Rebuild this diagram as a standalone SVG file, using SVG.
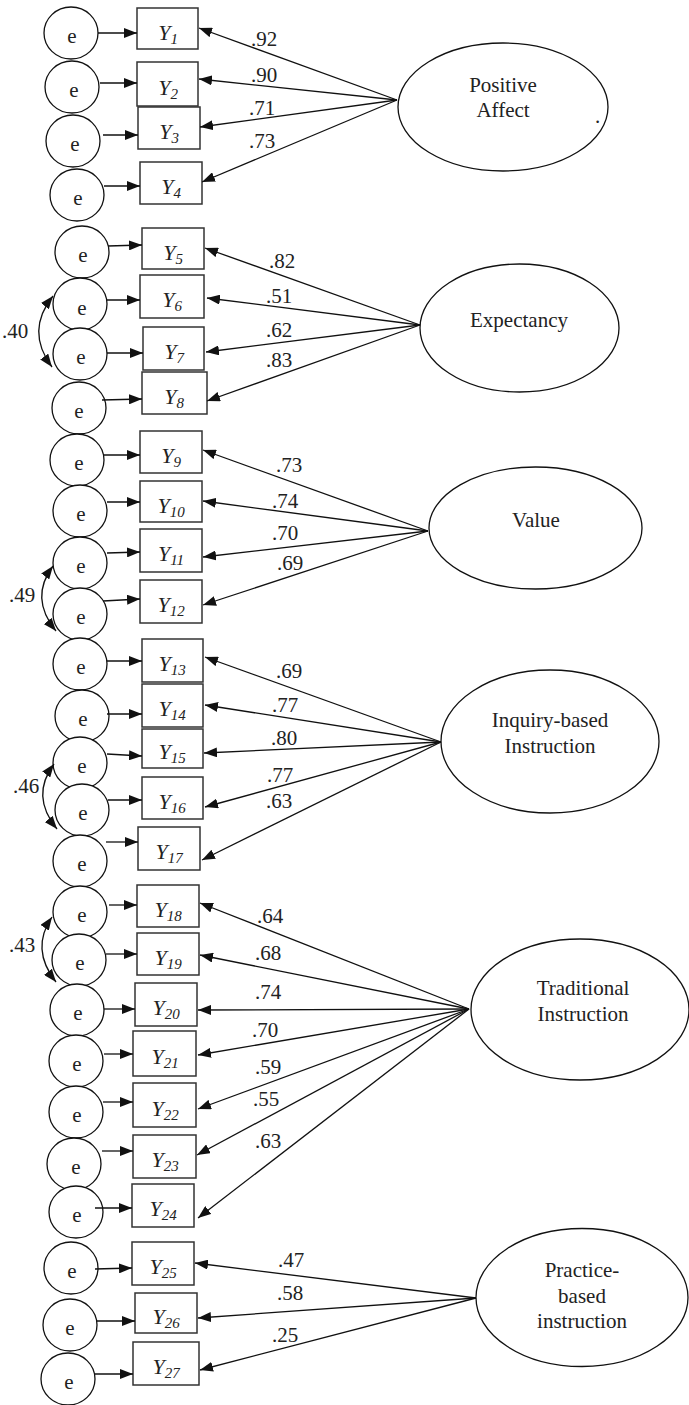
<svg xmlns="http://www.w3.org/2000/svg" width="689" height="1405" viewBox="0 0 689 1405">
<defs>
<marker id="ah" markerUnits="userSpaceOnUse" markerWidth="13" markerHeight="10" refX="13" refY="5" orient="auto-start-reverse">
<path d="M0,0 L13,5 L0,10 z" fill="#111"/>
</marker>
<style>
.e{fill:#fff;stroke:#111;stroke-width:1.3}
.b{fill:#fff;stroke:#333;stroke-width:1.5}
.lv{fill:#fff;stroke:#111;stroke-width:1.3}
text{font-family:'Liberation Serif',Tinos,'Times New Roman',Times,'DejaVu Serif',serif}
.t{font-size:21px;fill:#222}
.m{text-anchor:middle}
.y{font-size:22px;font-style:italic;fill:#222;text-anchor:middle}
.s{font-size:15px}
.c line,.c path{stroke:#111;stroke-width:1.3;fill:none;marker-end:url(#ah)}
.c path{marker-start:url(#ah)}
</style>
</defs>
<rect width="689" height="1405" fill="#fff"/>

<g id="latents">
<g id="positive-affect"><ellipse class="lv" cx="503" cy="107" rx="105" ry="64"/><text class="t m" x="503" y="92">Positive</text><text class="t m" x="503" y="117">Affect</text><text class="t" x="595" y="123">.</text></g>
<g id="expectancy"><ellipse class="lv" cx="519.5" cy="328" rx="99.5" ry="64"/><text class="t m" x="519" y="327">Expectancy</text></g>
<g id="value"><ellipse class="lv" cx="535.5" cy="528" rx="106.5" ry="61"/><text class="t m" x="536" y="527">Value</text></g>
<g id="inquiry"><ellipse class="lv" cx="550" cy="741.5" rx="109" ry="71.5"/><text class="t m" x="550" y="727">Inquiry-based</text><text class="t m" x="550" y="753">Instruction</text></g>
<g id="traditional"><ellipse class="lv" cx="580" cy="1009.5" rx="109" ry="70.5"/><text class="t m" x="583" y="995">Traditional</text><text class="t m" x="583" y="1021">Instruction</text></g>
<g id="practice"><ellipse class="lv" cx="582" cy="1297.5" rx="106" ry="69"/><text class="t m" x="582" y="1277">Practice-</text><text class="t m" x="582" y="1303">based</text><text class="t m" x="582" y="1328">instruction</text></g>
</g>

<g id="errors">
<g id="e1"><ellipse class="e" cx="71" cy="33" rx="27" ry="26"/><text class="t m" x="72" y="43">e</text></g>
<g id="e2"><ellipse class="e" cx="72" cy="87" rx="27" ry="26"/><text class="t m" x="74" y="97">e</text></g>
<g id="e3"><ellipse class="e" cx="73" cy="141" rx="27" ry="26"/><text class="t m" x="75" y="151">e</text></g>
<g id="e4"><ellipse class="e" cx="77" cy="195" rx="27" ry="26"/><text class="t m" x="78" y="205">e</text></g>
<g id="e5"><ellipse class="e" cx="82" cy="252" rx="27" ry="26"/><text class="t m" x="83" y="262">e</text></g>
<g id="e6"><ellipse class="e" cx="80" cy="304" rx="27" ry="26"/><text class="t m" x="82" y="315">e</text></g>
<g id="e7"><ellipse class="e" cx="80" cy="354" rx="27" ry="26"/><text class="t m" x="81" y="364">e</text></g>
<g id="e8"><ellipse class="e" cx="79" cy="408" rx="27" ry="26"/><text class="t m" x="79" y="418">e</text></g>
<g id="e9"><ellipse class="e" cx="77" cy="460" rx="27" ry="26"/><text class="t m" x="79" y="470">e</text></g>
<g id="e10"><ellipse class="e" cx="80" cy="511" rx="27" ry="26"/><text class="t m" x="81" y="521">e</text></g>
<g id="e11"><ellipse class="e" cx="80" cy="563" rx="27" ry="26"/><text class="t m" x="81" y="573">e</text></g>
<g id="e12"><ellipse class="e" cx="80" cy="614" rx="27" ry="26"/><text class="t m" x="81" y="624">e</text></g>
<g id="e13"><ellipse class="e" cx="80" cy="664" rx="27" ry="26"/><text class="t m" x="81" y="674">e</text></g>
<g id="e14"><ellipse class="e" cx="82" cy="716" rx="27" ry="26"/><text class="t m" x="83" y="726">e</text></g>
<g id="e15"><ellipse class="e" cx="80" cy="763" rx="27" ry="26"/><text class="t m" x="82" y="773">e</text></g>
<g id="e16"><ellipse class="e" cx="82" cy="810" rx="27" ry="26"/><text class="t m" x="83" y="820">e</text></g>
<g id="e17"><ellipse class="e" cx="80" cy="861" rx="27" ry="26"/><text class="t m" x="82" y="871">e</text></g>
<g id="e18"><ellipse class="e" cx="80" cy="912" rx="27" ry="26"/><text class="t m" x="82" y="922">e</text></g>
<g id="e19"><ellipse class="e" cx="79" cy="960" rx="27" ry="26"/><text class="t m" x="80" y="970">e</text></g>
<g id="e20"><ellipse class="e" cx="77" cy="1010" rx="27" ry="26"/><text class="t m" x="78" y="1020">e</text></g>
<g id="e21"><ellipse class="e" cx="76" cy="1061" rx="27" ry="26"/><text class="t m" x="77" y="1071">e</text></g>
<g id="e22"><ellipse class="e" cx="76" cy="1112" rx="27" ry="26"/><text class="t m" x="77" y="1122">e</text></g>
<g id="e23"><ellipse class="e" cx="74" cy="1164" rx="27" ry="26"/><text class="t m" x="76" y="1174">e</text></g>
<g id="e24"><ellipse class="e" cx="76" cy="1212" rx="27" ry="26"/><text class="t m" x="77" y="1222">e</text></g>
<g id="e25"><ellipse class="e" cx="71" cy="1268" rx="27" ry="26"/><text class="t m" x="72" y="1278">e</text></g>
<g id="e26"><ellipse class="e" cx="70" cy="1325" rx="27" ry="26"/><text class="t m" x="70" y="1335">e</text></g>
<g id="e27"><ellipse class="e" cx="68" cy="1379" rx="27" ry="26"/><text class="t m" x="69" y="1389">e</text></g>
</g>

<g id="indicators">
<g id="Y1"><rect class="b" x="137" y="8" width="61" height="41"/><text class="y" x="168" y="40">Y<tspan class="s" dy="4">1</tspan></text></g>
<g id="Y2"><rect class="b" x="137" y="62" width="61" height="44"/><text class="y" x="168" y="95">Y<tspan class="s" dy="4">2</tspan></text></g>
<g id="Y3"><rect class="b" x="138" y="107" width="62" height="42"/><text class="y" x="169" y="139">Y<tspan class="s" dy="4">3</tspan></text></g>
<g id="Y4"><rect class="b" x="140" y="162" width="62" height="42"/><text class="y" x="171" y="194">Y<tspan class="s" dy="4">4</tspan></text></g>
<g id="Y5"><rect class="b" x="142" y="228" width="62" height="41"/><text class="y" x="173" y="260">Y<tspan class="s" dy="4">5</tspan></text></g>
<g id="Y6"><rect class="b" x="140" y="275" width="64" height="43"/><text class="y" x="172" y="307">Y<tspan class="s" dy="4">6</tspan></text></g>
<g id="Y7"><rect class="b" x="143" y="327" width="61" height="43"/><text class="y" x="174" y="359">Y<tspan class="s" dy="4">7</tspan></text></g>
<g id="Y8"><rect class="b" x="142" y="372" width="65" height="42"/><text class="y" x="174" y="404">Y<tspan class="s" dy="4">8</tspan></text></g>
<g id="Y9"><rect class="b" x="140" y="431" width="62" height="42"/><text class="y" x="171" y="463">Y<tspan class="s" dy="4">9</tspan></text></g>
<g id="Y10"><rect class="b" x="140" y="481" width="62" height="41"/><text class="y" x="171" y="513">Y<tspan class="s" dy="4">10</tspan></text></g>
<g id="Y11"><rect class="b" x="140" y="529" width="62" height="43"/><text class="y" x="171" y="561">Y<tspan class="s" dy="4">11</tspan></text></g>
<g id="Y12"><rect class="b" x="140" y="580" width="62" height="43"/><text class="y" x="171" y="612">Y<tspan class="s" dy="4">12</tspan></text></g>
<g id="Y13"><rect class="b" x="142" y="639" width="61" height="43"/><text class="y" x="172" y="671">Y<tspan class="s" dy="4">13</tspan></text></g>
<g id="Y14"><rect class="b" x="142" y="684" width="61" height="43"/><text class="y" x="172" y="716">Y<tspan class="s" dy="4">14</tspan></text></g>
<g id="Y15"><rect class="b" x="142" y="729" width="61" height="39"/><text class="y" x="172" y="759">Y<tspan class="s" dy="4">15</tspan></text></g>
<g id="Y16"><rect class="b" x="142" y="777" width="61" height="42"/><text class="y" x="172" y="809">Y<tspan class="s" dy="4">16</tspan></text></g>
<g id="Y17"><rect class="b" x="138" y="827" width="62" height="43"/><text class="y" x="169" y="859">Y<tspan class="s" dy="4">17</tspan></text></g>
<g id="Y18"><rect class="b" x="137" y="885" width="62" height="42"/><text class="y" x="168" y="917">Y<tspan class="s" dy="4">18</tspan></text></g>
<g id="Y19"><rect class="b" x="137" y="933" width="62" height="42"/><text class="y" x="168" y="965">Y<tspan class="s" dy="4">19</tspan></text></g>
<g id="Y20"><rect class="b" x="135" y="983" width="62" height="43"/><text class="y" x="166" y="1015">Y<tspan class="s" dy="4">20</tspan></text></g>
<g id="Y21"><rect class="b" x="133" y="1031" width="63" height="45"/><text class="y" x="165" y="1064">Y<tspan class="s" dy="4">21</tspan></text></g>
<g id="Y22"><rect class="b" x="133" y="1083" width="63" height="44"/><text class="y" x="165" y="1116">Y<tspan class="s" dy="4">22</tspan></text></g>
<g id="Y23"><rect class="b" x="133" y="1135" width="63" height="43"/><text class="y" x="165" y="1167">Y<tspan class="s" dy="4">23</tspan></text></g>
<g id="Y24"><rect class="b" x="132" y="1184" width="62" height="43"/><text class="y" x="163" y="1216">Y<tspan class="s" dy="4">24</tspan></text></g>
<g id="Y25"><rect class="b" x="132" y="1242" width="62" height="43"/><text class="y" x="163" y="1274">Y<tspan class="s" dy="4">25</tspan></text></g>
<g id="Y26"><rect class="b" x="135" y="1293" width="62" height="40"/><text class="y" x="166" y="1324">Y<tspan class="s" dy="4">26</tspan></text></g>
<g id="Y27"><rect class="b" x="133" y="1342" width="66" height="43"/><text class="y" x="166" y="1374">Y<tspan class="s" dy="4">27</tspan></text></g>
</g>

<g id="connectors" class="c">
<line x1="98" y1="33" x2="137" y2="33"/>
<line x1="100" y1="83" x2="137" y2="83"/>
<line x1="103" y1="135" x2="138" y2="135"/>
<line x1="104" y1="186" x2="140" y2="186"/>
<line x1="108" y1="246" x2="142" y2="245"/>
<line x1="107" y1="300" x2="140" y2="300"/>
<line x1="107" y1="353" x2="143" y2="353"/>
<line x1="102" y1="400" x2="142" y2="399"/>
<line x1="104" y1="455" x2="140" y2="455"/>
<line x1="107" y1="502" x2="140" y2="502"/>
<line x1="107" y1="553" x2="140" y2="552"/>
<line x1="103" y1="601" x2="140" y2="599"/>
<line x1="107" y1="661" x2="142" y2="661"/>
<line x1="107" y1="714" x2="142" y2="714"/>
<line x1="107" y1="754" x2="142" y2="756"/>
<line x1="108" y1="800" x2="142" y2="800"/>
<line x1="106" y1="842" x2="138" y2="842"/>
<line x1="109" y1="905" x2="137" y2="905"/>
<line x1="106" y1="954" x2="137" y2="954"/>
<line x1="104" y1="1009" x2="135" y2="1009"/>
<line x1="104" y1="1054" x2="133" y2="1054"/>
<line x1="103" y1="1102" x2="133" y2="1102"/>
<line x1="102" y1="1151" x2="133" y2="1151"/>
<line x1="95" y1="1208" x2="132" y2="1208"/>
<line x1="95" y1="1269" x2="132" y2="1268"/>
<line x1="97" y1="1321" x2="135" y2="1321"/>
<line x1="95" y1="1374" x2="133" y2="1374"/>

<line x1="397" y1="100" x2="199" y2="28"/>
<line x1="397" y1="100" x2="199" y2="79"/>
<line x1="397" y1="100" x2="200" y2="127"/>
<line x1="397" y1="100" x2="202" y2="182"/>

<line x1="420" y1="325" x2="205" y2="248"/>
<line x1="420" y1="325" x2="207" y2="298"/>
<line x1="420" y1="325" x2="206" y2="352"/>
<line x1="420" y1="325" x2="207" y2="401"/>

<line x1="428" y1="531" x2="203" y2="450"/>
<line x1="428" y1="531" x2="203" y2="501"/>
<line x1="428" y1="531" x2="203" y2="557"/>
<line x1="428" y1="531" x2="203" y2="605"/>

<line x1="441" y1="742" x2="205" y2="657"/>
<line x1="441" y1="742" x2="205" y2="705"/>
<line x1="441" y1="742" x2="204" y2="753"/>
<line x1="441" y1="742" x2="205" y2="807"/>
<line x1="441" y1="742" x2="202" y2="860"/>

<line x1="469" y1="1009" x2="200" y2="903"/>
<line x1="469" y1="1009" x2="200" y2="955"/>
<line x1="469" y1="1009" x2="198" y2="1010"/>
<line x1="469" y1="1009" x2="198" y2="1055"/>
<line x1="469" y1="1009" x2="198" y2="1109"/>
<line x1="469" y1="1009" x2="197" y2="1155"/>
<line x1="469" y1="1009" x2="198" y2="1218"/>

<line x1="476" y1="1298" x2="195" y2="1263"/>
<line x1="476" y1="1298" x2="198" y2="1318"/>
<line x1="476" y1="1298" x2="200" y2="1370"/>

<path d="M53,296 Q25,331 52,367"/>
<path d="M53,566 Q29,598 56,631"/>
<path d="M54,764 Q30,796 57,829"/>
<path d="M52,917 Q30,949 56,982"/>
</g>

<g id="labels">
<text class="t" x="251" y="46">.92</text>
<text class="t" x="251" y="82">.90</text>
<text class="t" x="249" y="115">.71</text>
<text class="t" x="249" y="148">.73</text>
<text class="t" x="269" y="268">.82</text>
<text class="t" x="266" y="303">.51</text>
<text class="t" x="266" y="337">.62</text>
<text class="t" x="266" y="367">.83</text>
<text class="t" x="276" y="472">.73</text>
<text class="t" x="272" y="508">.74</text>
<text class="t" x="272" y="540">.70</text>
<text class="t" x="277" y="570">.69</text>
<text class="t" x="276" y="678">.69</text>
<text class="t" x="272" y="712">.77</text>
<text class="t" x="271" y="745">.80</text>
<text class="t" x="267" y="782">.77</text>
<text class="t" x="266" y="808">.63</text>
<text class="t" x="257" y="923">.64</text>
<text class="t" x="255" y="960">.68</text>
<text class="t" x="255" y="999">.74</text>
<text class="t" x="252" y="1037">.70</text>
<text class="t" x="255" y="1074">.59</text>
<text class="t" x="253" y="1106">.55</text>
<text class="t" x="255" y="1148">.63</text>
<text class="t" x="278" y="1267">.47</text>
<text class="t" x="277" y="1300">.58</text>
<text class="t" x="272" y="1342">.25</text>
<text class="t" x="2" y="338">.40</text>
<text class="t" x="9" y="602">.49</text>
<text class="t" x="13" y="793">.46</text>
<text class="t" x="9" y="952">.43</text>
</g>
</svg>
